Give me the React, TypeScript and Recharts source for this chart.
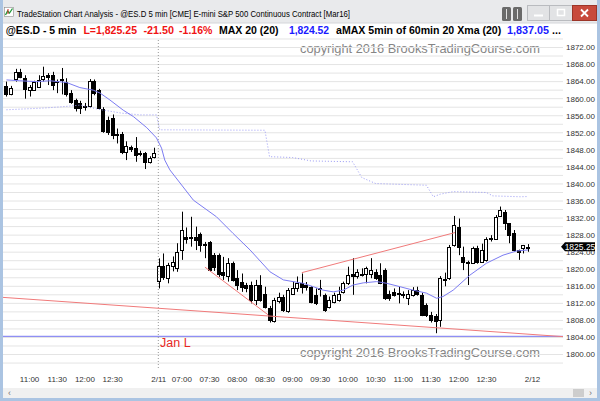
import React from 'react';
import { ComposedChart, Bar, Line, XAxis, YAxis, CartesianGrid, ReferenceLine } from 'recharts';

// ES.D 5 min bars: 2/10 10:35-13:15, then 2/11 06:35-13:15
const opens = [
  1863.0, 1861.0, 1864.5, 1866.2, 1864.8, 1862.0, 1862.0, 1862.8, 1864.5, 1865.6,
  1865.5, 1864.2, 1864.3, 1864.0, 1861.3, 1859.7, 1859.0, 1858.0, 1858.2, 1864.2,
  1862.0, 1857.6, 1855.0, 1855.5, 1851.8, 1851.7, 1847.6, 1848.6, 1848.5, 1847.3,
  1847.2, 1845.2, 1846.3,
  1817.2, 1820.75, 1817.9, 1820.8, 1820.2, 1824.5, 1827.6, 1827.6, 1827.6, 1828.2,
  1826.0, 1826.5, 1823.3, 1823.3, 1819.4, 1818.3, 1821.4, 1817.9, 1816.9, 1816.3,
  1816.3, 1812.8, 1816.3, 1814.3, 1810.8, 1807.8, 1812.5, 1813.4, 1810.2, 1814.3,
  1815.5, 1816.7, 1816.3, 1815.9, 1814.0, 1815.3, 1814.0, 1811.2, 1812.4, 1812.8,
  1814.7, 1816.7, 1819.0, 1818.3, 1819.0, 1819.0, 1819.0, 1819.4, 1818.6, 1819.8,
  1814.3, 1814.7, 1814.5, 1814.3, 1813.2, 1814.0, 1815.1, 1814.0, 1811.6, 1809.3,
  1809.0, 1808.1, 1817.6, 1817.9, 1825.7, 1830.0, 1822.9, 1821.8, 1821.4, 1824.9,
  1821.8, 1822.2, 1827.0, 1827.2, 1832.5, 1833.5, 1830.8, 1828.4, 1824.5, 1824.9,
  1825.0,
];
const highs = [
  1864.0, 1863.0, 1867.0, 1867.0, 1865.5, 1863.2, 1864.2, 1865.5, 1867.5, 1866.0,
  1866.3, 1864.5, 1867.2, 1864.8, 1862.0, 1860.0, 1859.5, 1859.0, 1864.6, 1864.5,
  1862.3, 1858.0, 1855.8, 1856.3, 1853.0, 1852.2, 1850.0, 1849.0, 1851.0, 1847.8,
  1847.5, 1846.5, 1848.5,
  1822.55, 1823.7, 1821.5, 1823.0, 1826.1, 1833.5, 1829.8, 1832.3, 1830.0, 1828.6,
  1826.4, 1826.6, 1823.8, 1823.7, 1822.9, 1822.6, 1821.8, 1819.8, 1819.0, 1816.8,
  1817.1, 1817.5, 1818.6, 1815.9, 1811.4, 1813.3, 1814.5, 1814.0, 1815.6, 1817.1,
  1818.3, 1819.0, 1817.0, 1816.0, 1815.5, 1817.5, 1814.3, 1813.6, 1814.5, 1815.9,
  1817.1, 1820.6, 1822.6, 1820.0, 1820.2, 1820.6, 1822.6, 1820.0, 1821.4, 1820.2,
  1815.0, 1815.5, 1815.9, 1814.8, 1815.1, 1815.8, 1815.9, 1814.5, 1812.0, 1810.0,
  1809.5, 1818.4, 1819.2, 1825.7, 1832.5, 1831.9, 1825.3, 1822.0, 1825.3, 1825.5,
  1826.0, 1827.5, 1828.0, 1832.7, 1834.7, 1833.9, 1830.8, 1829.2, 1824.6, 1825.7,
  1825.9,
];
const lows = [
  1860.5, 1860.8, 1864.0, 1864.8, 1860.0, 1860.5, 1861.8, 1862.5, 1864.0, 1863.2,
  1862.0, 1861.3, 1861.0, 1860.5, 1858.8, 1857.0, 1856.4, 1857.2, 1857.8, 1860.8,
  1857.5, 1852.0, 1851.5, 1850.5, 1849.5, 1847.0, 1845.6, 1847.5, 1845.2, 1846.5,
  1843.5, 1844.8, 1846.0,
  1815.5, 1817.5, 1816.7, 1819.5, 1819.4, 1822.2, 1826.0, 1825.3, 1824.5, 1824.1,
  1822.6, 1819.4, 1819.6, 1818.2, 1817.5, 1817.1, 1817.1, 1815.1, 1814.7, 1814.6,
  1812.0, 1811.6, 1812.4, 1810.8, 1807.5, 1807.5, 1812.0, 1810.0, 1809.8, 1814.0,
  1814.7, 1814.3, 1815.0, 1812.0, 1811.6, 1813.6, 1810.0, 1810.8, 1812.0, 1812.4,
  1814.3, 1816.3, 1814.0, 1817.8, 1818.3, 1816.7, 1817.9, 1817.5, 1816.5, 1812.8,
  1812.6, 1813.6, 1812.0, 1813.2, 1811.6, 1813.6, 1813.8, 1809.0, 1808.8, 1807.5,
  1805.0, 1806.5, 1816.0, 1817.5, 1825.3, 1823.3, 1819.8, 1816.3, 1821.3, 1821.3,
  1821.5, 1821.8, 1826.5, 1826.9, 1832.3, 1829.2, 1826.1, 1824.1, 1822.2, 1823.7,
  1824.1,
];
const closes = [
  1861.0, 1862.5, 1866.3, 1865.2, 1862.2, 1862.8, 1863.8, 1864.4, 1865.4, 1865.0,
  1863.2, 1864.0, 1864.5, 1861.0, 1859.3, 1857.8, 1857.8, 1858.3, 1864.2, 1861.3,
  1857.8, 1852.5, 1852.2, 1851.5, 1851.5, 1847.6, 1848.8, 1848.2, 1846.8, 1847.0,
  1845.2, 1846.0, 1847.2,
  1820.75, 1818.25, 1821.0, 1821.8, 1824.1, 1829.2, 1827.2, 1827.4, 1826.9, 1825.8,
  1825.8, 1819.8, 1820.6, 1819.0, 1818.6, 1821.4, 1817.5, 1816.3, 1815.9, 1815.5,
  1812.8, 1816.3, 1812.8, 1811.2, 1808.0, 1812.8, 1813.6, 1810.4, 1815.1, 1815.5,
  1816.7, 1815.9, 1815.9, 1812.4, 1812.0, 1815.5, 1810.4, 1812.8, 1814.0, 1814.3,
  1816.7, 1818.6, 1818.3, 1819.4, 1818.6, 1820.2, 1819.8, 1817.9, 1816.7, 1813.2,
  1813.2, 1813.9, 1814.2, 1813.9, 1814.3, 1815.1, 1814.3, 1809.3, 1809.3, 1808.1,
  1807.8, 1817.9, 1817.8, 1825.3, 1830.4, 1825.3, 1821.8, 1821.5, 1824.9, 1821.8,
  1824.5, 1827.0, 1827.3, 1832.3, 1833.9, 1830.8, 1828.0, 1824.5, 1824.1, 1825.7,
  1825.25,
];

// MAX 20 (solid) and aMAX 60min (dotted) at bar positions
const maX = [0, 2.9, 6.5, 9.4, 13, 15.9, 18.8, 20.3, 22.4, 25.3, 27.5, 30.4, 32.5, 33.6, 34.3, 35.4, 40.5, 45.5, 49.1, 52.8, 57.1, 60, 62.1, 64.3, 66.5, 68.6, 70.8, 73, 75.1, 77.3, 80.2, 82.4, 85.3, 88.1, 91, 93.2, 94.6, 96.8, 100.4, 104, 107.6, 110.6, 113];
const maY = [1864.4, 1864.2, 1864.0, 1864.2, 1863.8, 1862.6, 1862.0, 1861.3, 1859.7, 1857.3, 1855.8, 1853.2, 1850.8, 1848.4, 1845.6, 1843.3, 1836.2, 1832.3, 1828.4, 1824.5, 1819.4, 1817.5, 1817.1, 1816.7, 1815.9, 1815.1, 1814.7, 1815.1, 1816.3, 1816.8, 1817.1, 1816.7, 1815.9, 1815.1, 1814.4, 1813.2, 1813.6, 1815.1, 1818.6, 1821.4, 1823.3, 1824.3, 1824.52];
const avgX = [0, 4, 8, 12, 16, 20, 25, 29, 32.5, 33.2, 56, 57, 62, 66, 75, 77, 80, 91, 92.5, 94, 96.8, 104, 105.4, 111.3, 113];
const avgY = [1857.4, 1857.6, 1857.8, 1858.1, 1858.5, 1857.5, 1856.6, 1856.2, 1856.2, 1852.7, 1852.6, 1846.4, 1846.2, 1845.4, 1845.2, 1841.5, 1840.1, 1839.7, 1837.0, 1837.6, 1838.2, 1838.0, 1837.2, 1837.0, 1837.05];

const tickIdx = [5, 11, 17, 23, 33, 38, 44, 50, 56, 62, 68, 74, 80, 86, 92, 98, 104, 114];
const tickText = ['11:00', '11:30', '12:00', '12:30', '2/11', '07:00', '07:30', '08:00', '08:30', '09:00', '09:30', '10:00', '10:30', '11:00', '11:30', '12:00', '12:30', '2/12'];
const priceTicks = [1800, 1804, 1808, 1812, 1816, 1820, 1824, 1828, 1832, 1836, 1840, 1844, 1848, 1852, 1856, 1860, 1864, 1868, 1872];
const gridPrices = [1798, 1800, 1802, 1804, 1806, 1808, 1810, 1812, 1814, 1816, 1818, 1820, 1822, 1824, 1826, 1828, 1830, 1832, 1834, 1836, 1838, 1840, 1842, 1844, 1846, 1848, 1850, 1852, 1854, 1856, 1858, 1860, 1862, 1864, 1866, 1868, 1870, 1872, 1874];

// hand drawn lines
const redLines = [
  { x1: -0.76, y1: 1813.4, x2: 120.6, y2: 1804.2 },
  { x1: 64.0, y1: 1819.2, x2: 97.2, y2: 1828.6 },
  { x1: 43.0, y1: 1820.5, x2: 56.7, y2: 1809.3 },
];
const janLow = 1804.25;
const lastPrice = 1825.25;
const dayBreak = 32.9;

const bars = opens.map((o, i) => ({ i, o, h: highs[i], l: lows[i], c: closes[i], range: [lows[i], highs[i]] }));
const maRows = maX.map((i, k) => ({ i, v: maY[k] }));
const avgRows = avgX.map((i, k) => ({ i, v: avgY[k] }));

const FONT = '"Liberation Sans", Arial, sans-serif';

function Candle(props: any) {
  const { x, y, width, height, payload } = props;
  if (!payload || height == null || isNaN(y)) return null;
  const { o, h, l, c } = payload;
  const cx = Math.round(x + width / 2) + 0.5;
  const k = h > l ? height / (h - l) : 0;
  const py = (v: number) => y + (h - v) * k;
  let top = Math.round(py(Math.max(o, c))) + 0.5;
  let bot = Math.round(py(Math.min(o, c))) + 0.5;
  if (bot - top < 1) bot = top + 1;
  const up = c >= o;
  return (
    <g>
      <line x1={cx} x2={cx} y1={y} y2={y + height} stroke="#000" strokeWidth={1} />
      <rect x={cx - 2} y={top} width={3} height={bot - top} fill={up ? '#fff' : '#000'} stroke="#000" strokeWidth={1} />
    </g>
  );
}

function PriceTag(props: any) {
  const vb = props.viewBox;
  if (!vb) return null;
  const x0 = vb.x + vb.width;
  const y = vb.y;
  return (
    <g>
      <path d={`M${x0 - 2},${y} L${x0 + 2},${y - 4.5} L${x0 + 32},${y - 4.5} L${x0 + 32},${y + 4.5} L${x0 + 2},${y + 4.5} Z`} fill="#000" />
      <text x={x0 + 17} y={y + 3} fill="#fff" fontSize={8.5} textAnchor="middle" fontFamily={FONT}>{lastPrice.toFixed(2)}</text>
    </g>
  );
}

function JanLabel(props: any) {
  const vb = props.viewBox;
  if (!vb) return null;
  return (
    <text x={vb.x + 157} y={vb.y + 11} fill="#e8271f" fontSize={12.5} fontFamily={FONT}>Jan L</text>
  );
}

function Chrome() {
  const hdr = { fontFamily: FONT, fontSize: 10.5, fontWeight: 700 as const, lengthAdjust: 'spacingAndGlyphs' as const };
  return (
    <svg width={600} height={401} style={{ position: 'absolute', left: 0, top: 0 }}>
      <rect width={600} height={401} fill="#fff" />
      <rect x={0} y={0} width={600} height={23} fill="#e9eaec" />
      <line x1={0} x2={600} y1={23} y2={23} stroke="#d4d6da" />
      {/* app icon */}
      <rect x={4.5} y={7.5} width={9} height={9} fill="#fff" stroke="#8a8a8a" strokeWidth={0.6} />
      <polyline points="5.5,15 7.5,11 9.5,13 12.5,8.5" fill="none" stroke="#1e9a38" strokeWidth={1.3} />
      <line x1={8} x2={8} y1={9} y2={14} stroke="#d02020" strokeWidth={1} />
      <text x={17} y={16.5} fontSize={9} fontFamily={FONT} fill="#000" textLength={333} lengthAdjust="spacingAndGlyphs">
        {'TradeStation Chart Analysis - @ES.D 5 min [CME] E-mini S&P 500 Continuous Contract [Mar16]'}
      </text>
      {/* window buttons */}
      <rect x={502} y={7} width={9} height={14} rx={1.5} fill="#6a6a6a" />
      <line x1={506.5} x2={506.5} y1={9} y2={19} stroke="#fff" strokeWidth={0.8} />
      <rect x={513} y={7} width={9} height={14} rx={1.5} fill="#6a6a6a" />
      <line x1={517.5} x2={517.5} y1={9} y2={19} stroke="#fff" strokeWidth={0.8} />
      <rect x={527.5} y={5.5} width={22} height={15} fill="#e2e3e5" stroke="#b9bbbf" />
      <line x1={534} x2={543} y1={15.5} y2={15.5} stroke="#fff" strokeWidth={2} />
      <rect x={549.5} y={5.5} width={23} height={15} fill="#e2e3e5" stroke="#b9bbbf" />
      <rect x={557.5} y={9.5} width={7} height={6} fill="none" stroke="#fff" strokeWidth={1.5} />
      <rect x={572.5} y={5.5} width={24} height={15} fill="#c84a3c" stroke="#9c3528" />
      <path d="M581,9.5 L588,16.5 M588,9.5 L581,16.5" stroke="#fff" strokeWidth={1.8} />
      {/* study header */}
      <text x={5.7} y={33.7} fill="#000" textLength={70.8} {...hdr}>@ES.D - 5 min</text>
      <text x={83.4} y={33.7} fill="#f01414" textLength={53.6} {...hdr}>L=1,825.25</text>
      <text x={143.5} y={33.7} fill="#f01414" textLength={30.6} {...hdr}>-21.50</text>
      <text x={179.1} y={33.7} fill="#f01414" textLength={33.3} {...hdr}>-1.16%</text>
      <text x={218.9} y={33.7} fill="#000" textLength={59.7} {...hdr}>MAX 20 (20)</text>
      <text x={288.9} y={33.7} fill="#1a1aff" textLength={40.2} {...hdr}>1,824.52</text>
      <text x={336} y={33.7} fill="#000" textLength={165.3} {...hdr}>aMAX 5min of 60min 20 Xma (20)</text>
      <text x={507} y={33.7} fill="#1a1aff" textLength={42} {...hdr}>1,837.05</text>
      <text x={552} y={33.7} fill="#000" textLength={9} {...hdr}>...</text>
      {/* watermark */}
      <text x={300} y={52.5} fill="#858585" fontSize={12.8} fontFamily={FONT} textLength={240} lengthAdjust="spacingAndGlyphs">copyright 2016 BrooksTradingCourse.com</text>
      <text x={300} y={356.5} fill="#858585" fontSize={12.8} fontFamily={FONT} textLength={240} lengthAdjust="spacingAndGlyphs">copyright 2016 BrooksTradingCourse.com</text>
      {/* scrollbar */}
      <rect x={3} y={388} width={594} height={10} fill="#f0f0f0" />
      <rect x={573} y={389} width={11} height={8} fill="#cdcdcd" />
      <text x={8} y={396} fontSize={9} fill="#777" fontFamily={FONT}>‹</text>
      <text x={589} y={396} fontSize={9} fill="#777" fontFamily={FONT}>›</text>
      {/* frame */}
      <rect x={0} y={0} width={3} height={401} fill="#abc4e2" />
      <rect x={597} y={0} width={3} height={401} fill="#abc4e2" />
      <rect x={0} y={398} width={600} height={3} fill="#abc4e2" />
    </svg>
  );
}

export default function App() {
  return (
    <div style={{ position: 'fixed', left: 0, top: 0, width: 600, height: 401, overflow: 'hidden', background: '#fff' }}>
      <Chrome />
      <div style={{ position: 'absolute', left: 0, top: 0 }}>
        <ComposedChart width={600} height={401} data={bars} margin={{ top: 38, right: 3, bottom: 13, left: 3 }}>
          <CartesianGrid vertical={false} horizontalValues={gridPrices} stroke="#e4e4e4" />
          <XAxis
            type="number"
            dataKey="i"
            domain={[-0.76, 120.6]}
            allowDataOverflow
            ticks={tickIdx}
            interval={0}
            tickFormatter={(v: number) => tickText[tickIdx.indexOf(v)] ?? ''}
            tick={{ fontSize: 8, fill: '#333', fontFamily: FONT }}
            tickLine={false}
            axisLine={false}
            height={20}
          />
          <YAxis
            type="number"
            orientation="right"
            domain={[1796.84, 1874.23]}
            allowDataOverflow
            ticks={priceTicks}
            interval={0}
            tickFormatter={(v: number) => v.toFixed(2)}
            tick={{ fontSize: 8, fill: '#333', fontFamily: FONT }}
            tickLine={false}
            axisLine={false}
            tickSize={0}
            tickMargin={3}
            width={34}
          />
          <ReferenceLine x={dayBreak} stroke="#9a9a9a" strokeDasharray="1 2" ifOverflow="visible" />
          <ReferenceLine y={janLow} stroke="#8f8ff4" strokeWidth={1.3} ifOverflow="visible" label={<JanLabel />} />
          {redLines.map((r, k) => (
            <ReferenceLine
              key={k}
              segment={[{ x: r.x1, y: r.y1 }, { x: r.x2, y: r.y2 }]}
              stroke="#f07a7a"
              strokeWidth={1}
              ifOverflow="visible"
            />
          ))}
          <Line data={avgRows} dataKey="v" type="linear" stroke="#9a9af5" strokeWidth={1} strokeDasharray="1 2" dot={false} isAnimationActive={false} />
          <Line data={maRows} dataKey="v" type="linear" stroke="#7c7cf2" strokeWidth={1} dot={false} isAnimationActive={false} />
          <Bar dataKey="range" barSize={3} shape={<Candle />} isAnimationActive={false} />
          <ReferenceLine y={lastPrice} stroke="none" ifOverflow="visible" label={<PriceTag />} />
        </ComposedChart>
      </div>
    </div>
  );
}
